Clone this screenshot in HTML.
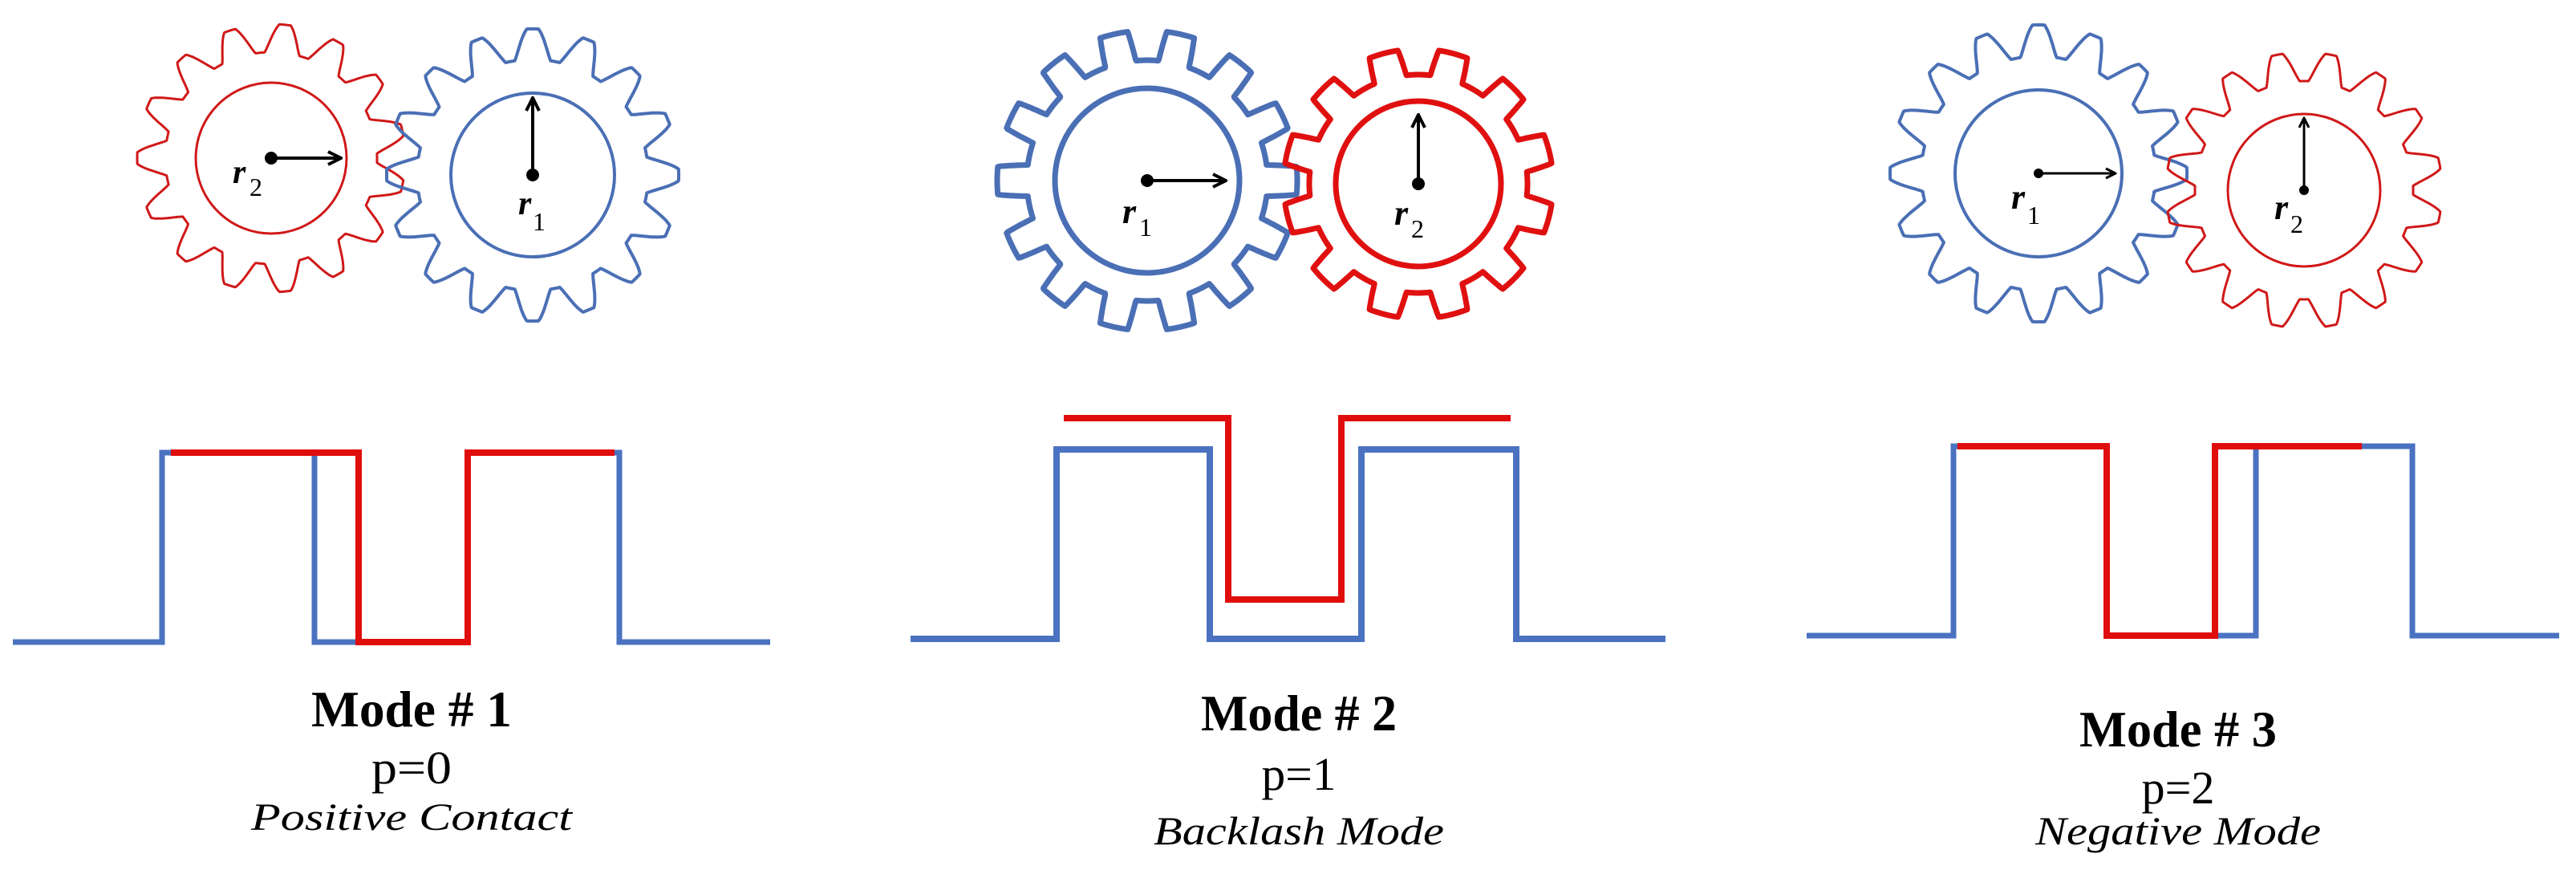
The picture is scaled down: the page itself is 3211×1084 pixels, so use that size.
<!DOCTYPE html>
<html><head><meta charset="utf-8"><style>
html,body{margin:0;padding:0;background:#fff;}
svg{display:block;}
text{font-family:"Liberation Serif",serif;fill:#000;}
</style></head><body>
<svg id="s" width="3211" height="1084" viewBox="0 0 3211 1084" xmlns="http://www.w3.org/2000/svg">
<defs>
<marker id="ah" viewBox="0 0 10 10" refX="9" refY="5" markerWidth="5" markerHeight="5" orient="auto" markerUnits="strokeWidth">
<path d="M1,1 L9,5 L1,9" fill="none" stroke="#000" stroke-width="2"/>
</marker>
</defs>
<g id="gears"></g>

<!-- Mode 1 gear annotations -->
<line x1="338" y1="197" x2="425" y2="197" stroke="#000" stroke-width="4" marker-end="url(#ah)"/>
<circle cx="338" cy="197" r="8"/>
<line x1="664" y1="218" x2="664" y2="122" stroke="#000" stroke-width="4" marker-end="url(#ah)"/>
<circle cx="664" cy="218" r="8"/>
<text x="290" y="228" font-size="42" font-style="italic" font-weight="bold">r</text><text x="311" y="244" font-size="32">2</text>
<text x="646" y="267" font-size="42" font-style="italic" font-weight="bold">r</text><text x="664" y="287" font-size="32">1</text>

<!-- Mode 2 -->
<line x1="1430" y1="225" x2="1528" y2="225" stroke="#000" stroke-width="4" marker-end="url(#ah)"/>
<circle cx="1430" cy="225" r="8"/>
<line x1="1768" y1="229" x2="1768" y2="143" stroke="#000" stroke-width="4" marker-end="url(#ah)"/>
<circle cx="1768" cy="229" r="8"/>
<text x="1399" y="278" font-size="44" font-style="italic" font-weight="bold">r</text><text x="1420" y="294" font-size="32">1</text>
<text x="1738" y="280" font-size="44" font-style="italic" font-weight="bold">r</text><text x="1759" y="296" font-size="32">2</text>

<!-- Mode 3 -->
<line x1="2541" y1="216" x2="2637" y2="216" stroke="#000" stroke-width="3" marker-end="url(#ah)"/>
<circle cx="2541" cy="216" r="6"/>
<line x1="2872" y1="237" x2="2872" y2="147" stroke="#000" stroke-width="3" marker-end="url(#ah)"/>
<circle cx="2872" cy="237" r="6"/>
<text x="2507" y="260" font-size="44" font-style="italic" font-weight="bold">r</text><text x="2527" y="279" font-size="32">1</text>
<text x="2835" y="273" font-size="44" font-style="italic" font-weight="bold">r</text><text x="2855" y="290" font-size="32">2</text>

<!-- Waveform 1 -->
<polyline points="16,800 202,800 202,564 392,564 392,800 583,800" fill="none" stroke="#4a72c0" stroke-width="7"/>
<polyline points="766,564 772,564 772,800 960,800" fill="none" stroke="#4a72c0" stroke-width="7"/>
<polyline points="213,564 447,564 447,800 583,800 583,564 766,564" fill="none" stroke="#e00d0d" stroke-width="8"/>

<!-- Waveform 2 -->
<polyline points="1135,796 1317,796 1317,560 1508,560 1508,796 1697,796 1697,560 1890,560 1890,796 2076,796" fill="none" stroke="#4a72c0" stroke-width="8"/>
<polyline points="1326,521 1531,521 1531,747 1672,747 1672,521 1883,521" fill="none" stroke="#e00d0d" stroke-width="8"/>

<!-- Waveform 3 -->
<polyline points="2252,792 2435,792 2435,556 2626,556 2626,792 2812,792 2812,556 3007,556 3007,792 3190,792" fill="none" stroke="#4a72c0" stroke-width="7"/>
<polyline points="2440,556 2626,556 2626,792 2761,792 2761,556 2944,556" fill="none" stroke="#e00d0d" stroke-width="8"/>

<!-- Text -->
<text x="513" y="905" font-size="64" font-weight="bold" text-anchor="middle" textLength="250" lengthAdjust="spacingAndGlyphs">Mode # 1</text>
<text x="513" y="976" font-size="58" text-anchor="middle" textLength="100" lengthAdjust="spacingAndGlyphs">p=0</text>
<text x="513" y="1034" font-size="48" font-style="italic" text-anchor="middle" textLength="400" lengthAdjust="spacingAndGlyphs">Positive Contact</text>

<text x="1619" y="910" font-size="64" font-weight="bold" text-anchor="middle" textLength="244" lengthAdjust="spacingAndGlyphs">Mode # 2</text>
<text x="1619" y="984" font-size="58" text-anchor="middle" textLength="93" lengthAdjust="spacingAndGlyphs">p=1</text>
<text x="1619" y="1052" font-size="50" font-style="italic" text-anchor="middle" textLength="362" lengthAdjust="spacingAndGlyphs">Backlash Mode</text>

<text x="2715" y="930" font-size="64" font-weight="bold" text-anchor="middle" textLength="246" lengthAdjust="spacingAndGlyphs">Mode # 3</text>
<text x="2715" y="1001" font-size="58" text-anchor="middle" textLength="91" lengthAdjust="spacingAndGlyphs">p=2</text>
<text x="2715" y="1052" font-size="50" font-style="italic" text-anchor="middle" textLength="356" lengthAdjust="spacingAndGlyphs">Negative Mode</text>
</svg>
<script>
(function(){
var g=document.getElementById('gears');
function gear(cx,cy,rin,root,tip,n,phase,sharp,color,sw){
  var pts=[],N=1440,mid=(root+tip)/2,amp=(tip-root)/2;
  for(var i=0;i<=N;i++){
    var t=i/N*2*Math.PI;
    var v=Math.cos(n*t+phase)*sharp;
    if(v>1)v=1;if(v<-1)v=-1;
    var r=mid+amp*v;
    pts.push((cx+r*Math.cos(t)).toFixed(1)+','+(cy+r*Math.sin(t)).toFixed(1));
  }
  var p=document.createElementNS('http://www.w3.org/2000/svg','polygon');
  p.setAttribute('points',pts.join(' '));
  p.setAttribute('fill','none');p.setAttribute('stroke',color);
  p.setAttribute('stroke-width',sw);p.setAttribute('stroke-linejoin','round');
  g.appendChild(p);
  var c=document.createElementNS('http://www.w3.org/2000/svg','circle');
  c.setAttribute('cx',cx);c.setAttribute('cy',cy);c.setAttribute('r',rin);
  c.setAttribute('fill','none');c.setAttribute('stroke',color);c.setAttribute('stroke-width',sw);
  g.appendChild(c);
}
var B='#4a6fb5',R='#d01818';
gear(338,197,94,132,167,15,Math.PI,1.25,R,3);
gear(664,218,102,144,182,16,0,1.25,B,4);
gear(1430,225,115,150,187,14,0,4,B,7);
gear(1768,229,103,136,168,12,Math.PI,4,'#e01010',7);
gear(2541,216,104,146,185,16,0,1.25,B,4);
gear(2872,237,95,136,172,16,Math.PI,1.25,R,3);
})();
</script>
</body></html>
